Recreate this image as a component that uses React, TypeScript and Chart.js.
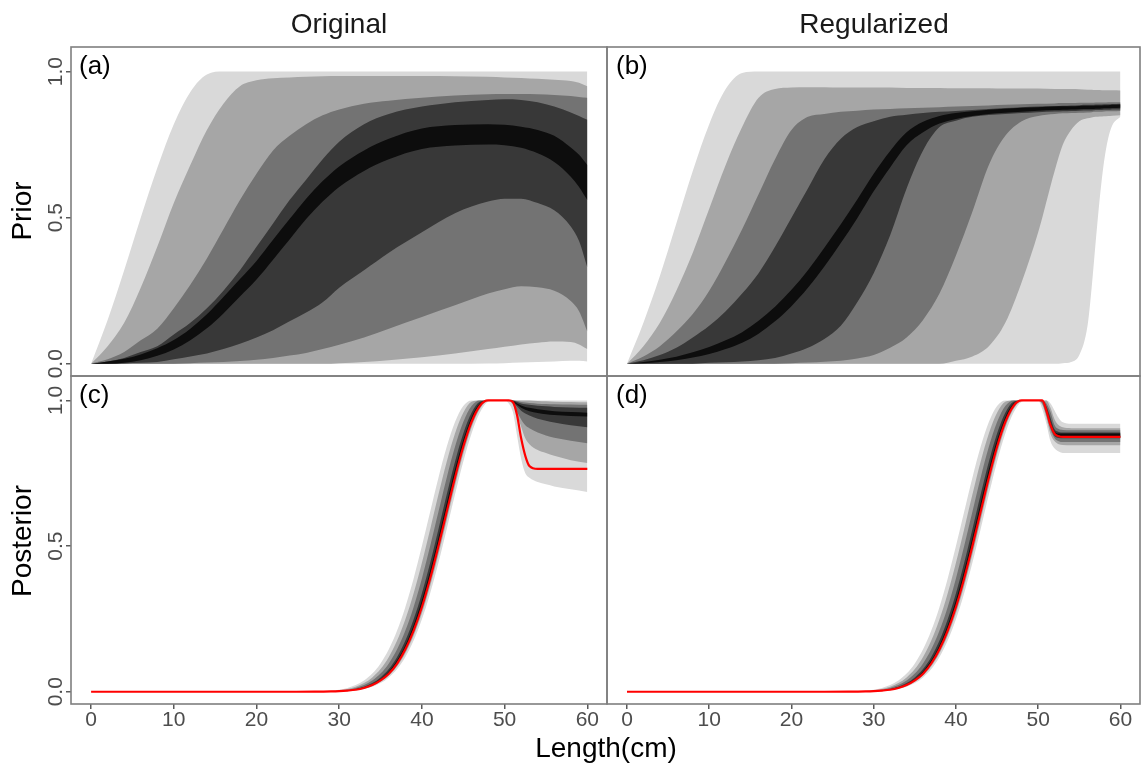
import React, { useEffect, useRef } from 'react';
import { Chart, registerables } from 'chart.js';

Chart.register(...registerables);

// ---------- axis ticks ----------
const X_TICKS = [0, 10, 20, 30, 40, 50, 60];
const Y_TICKS = [0, 0.5, 1.0];

// ---------- panel (a): Original prior ----------
const A_X = [0, 2, 4, 6, 8, 10, 12, 14, 16, 18, 20, 22, 24, 26, 28, 30, 33, 36, 40, 44, 48, 50, 52, 54, 56, 58, 59, 60];
const A_LIGHT_HI = [0, 0.15, 0.32, 0.5, 0.67, 0.82, 0.93, 0.99, 1, 1, 1, 1, 1, 1, 1, 1, 1, 1, 1, 1, 1, 1, 1, 1, 1, 1, 1, 1];
const A_LIGHT_LO = [0, 0, 0, 0, 0, 0, 0, 0, 0, 0, 0, 0, 0, 0, 0, 0, 0, 0, 0, 0, 0.001, 0.002, 0.004, 0.006, 0.008, 0.01, 0.01, 0.008];
const A_A8_HI = [0, 0.06, 0.14, 0.26, 0.4, 0.55, 0.68, 0.8, 0.89, 0.95, 0.97, 0.977, 0.98, 0.982, 0.984, 0.985, 0.985, 0.985, 0.985, 0.984, 0.982, 0.98, 0.978, 0.975, 0.972, 0.968, 0.962, 0.95];
const A_A8_LO = [0, 0, 0, 0, 0, 0, 0, 0, 0, 0, 0, 0, 0, 0, 0, 0.002, 0.006, 0.012, 0.022, 0.035, 0.05, 0.058, 0.066, 0.072, 0.076, 0.074, 0.066, 0.05];
const A_73_HI = [0, 0.015, 0.04, 0.08, 0.12, 0.19, 0.27, 0.36, 0.46, 0.56, 0.65, 0.73, 0.78, 0.82, 0.85, 0.87, 0.89, 0.9, 0.91, 0.918, 0.922, 0.923, 0.923, 0.922, 0.92, 0.916, 0.913, 0.91];
const A_73_LO = [0, 0, 0, 0, 0, 0, 0.002, 0.004, 0.006, 0.009, 0.014, 0.02, 0.028, 0.037, 0.05, 0.065, 0.09, 0.12, 0.16, 0.2, 0.24, 0.255, 0.265, 0.262, 0.25, 0.215, 0.18, 0.11];
const A_36_HI = [0, 0.008, 0.02, 0.04, 0.06, 0.1, 0.14, 0.19, 0.25, 0.32, 0.4, 0.48, 0.56, 0.63, 0.7, 0.76, 0.82, 0.855, 0.88, 0.895, 0.903, 0.905, 0.903, 0.895, 0.88, 0.86, 0.848, 0.835];
const A_36_LO = [0, 0, 0.001, 0.003, 0.006, 0.015, 0.025, 0.035, 0.05, 0.068, 0.09, 0.115, 0.145, 0.175, 0.21, 0.26, 0.32, 0.38, 0.45, 0.515, 0.555, 0.565, 0.565, 0.55, 0.525, 0.47, 0.42, 0.33];
const A_BLACK_HI = [0, 0.008, 0.017, 0.032, 0.053, 0.081, 0.12, 0.169, 0.228, 0.29, 0.352, 0.424, 0.495, 0.565, 0.625, 0.675, 0.73, 0.77, 0.805, 0.817, 0.82, 0.818, 0.811, 0.8, 0.78, 0.74, 0.715, 0.68];
const A_BLACK_LO = [0, 0, 0.003, 0.012, 0.027, 0.049, 0.08, 0.121, 0.172, 0.23, 0.288, 0.356, 0.425, 0.495, 0.555, 0.605, 0.66, 0.7, 0.735, 0.747, 0.75, 0.748, 0.739, 0.72, 0.69, 0.64, 0.605, 0.56];

// ---------- panel (b): Regularized prior ----------
const B_X = [0, 2, 4, 6, 8, 10, 12, 14, 16, 18, 20, 22, 24, 26, 28, 30, 32, 34, 36, 38, 40, 42, 44, 46, 48, 50, 52, 53, 54, 55, 56, 56.5, 57, 57.5, 58, 58.5, 59, 60];
const B_LIGHT_HI = [0, 0.14, 0.3, 0.48, 0.66, 0.82, 0.94, 0.995, 1, 1, 1, 1, 1, 1, 1, 1, 1, 1, 1, 1, 1, 1, 1, 1, 1, 1, 1, 1, 1, 1, 1, 1, 1, 1, 1, 1, 1, 1];
const B_LIGHT_LO = [0, 0, 0, 0, 0, 0, 0, 0, 0, 0, 0, 0, 0, 0, 0, 0, 0, 0, 0, 0, 0, 0, 0, 0, 0, 0, 0, 0.002, 0.006, 0.03, 0.13, 0.26, 0.42, 0.57, 0.69, 0.77, 0.815, 0.845];
const B_A8_HI = [0, 0.06, 0.14, 0.25, 0.38, 0.53, 0.68, 0.81, 0.91, 0.94, 0.945, 0.946, 0.946, 0.945, 0.945, 0.945, 0.945, 0.944, 0.944, 0.944, 0.943, 0.943, 0.943, 0.942, 0.942, 0.942, 0.94, 0.94, 0.94, 0.939, 0.938, 0.938, 0.937, 0.937, 0.936, 0.936, 0.936, 0.935];
const B_A8_LO = [0, 0, 0, 0, 0, 0, 0, 0, 0, 0, 0, 0, 0, 0, 0, 0, 0, 0, 0, 0, 0.01, 0.025, 0.06, 0.14, 0.28, 0.45, 0.66, 0.75, 0.8, 0.83, 0.84, 0.843, 0.845, 0.846, 0.847, 0.848, 0.849, 0.85];
const B_73_HI = [0, 0.025, 0.06, 0.11, 0.17, 0.25, 0.35, 0.46, 0.58, 0.7, 0.8, 0.845, 0.855, 0.862, 0.866, 0.87, 0.872, 0.874, 0.876, 0.878, 0.88, 0.882, 0.884, 0.886, 0.888, 0.89, 0.891, 0.892, 0.892, 0.893, 0.893, 0.893, 0.894, 0.894, 0.894, 0.895, 0.895, 0.895];
const B_73_LO = [0, 0, 0, 0, 0, 0, 0, 0, 0, 0, 0.002, 0.004, 0.007, 0.01, 0.018, 0.03, 0.055, 0.09, 0.15, 0.24, 0.37, 0.52, 0.68, 0.78, 0.83, 0.848, 0.855, 0.857, 0.858, 0.859, 0.86, 0.861, 0.862, 0.862, 0.863, 0.864, 0.864, 0.865];
const B_36_HI = [0, 0.012, 0.03, 0.055, 0.09, 0.13, 0.18, 0.24, 0.31, 0.4, 0.5, 0.6, 0.7, 0.77, 0.81, 0.83, 0.845, 0.852, 0.858, 0.862, 0.865, 0.868, 0.872, 0.875, 0.878, 0.88, 0.882, 0.883, 0.884, 0.885, 0.886, 0.886, 0.887, 0.887, 0.888, 0.888, 0.889, 0.89];
const B_36_LO = [0, 0, 0, 0, 0, 0.003, 0.005, 0.008, 0.012, 0.02, 0.035, 0.055, 0.085, 0.13, 0.21, 0.31, 0.44, 0.6, 0.73, 0.81, 0.832, 0.845, 0.851, 0.855, 0.858, 0.861, 0.863, 0.864, 0.865, 0.866, 0.867, 0.867, 0.868, 0.868, 0.869, 0.869, 0.87, 0.87];
const B_BLACK_HI = [0, 0.006, 0.014, 0.024, 0.039, 0.057, 0.08, 0.108, 0.147, 0.195, 0.253, 0.32, 0.397, 0.477, 0.562, 0.65, 0.728, 0.792, 0.828, 0.848, 0.858, 0.864, 0.869, 0.873, 0.876, 0.878, 0.88, 0.881, 0.881, 0.882, 0.883, 0.883, 0.884, 0.884, 0.885, 0.885, 0.886, 0.887];
const B_BLACK_LO = [0, 0.002, 0.006, 0.012, 0.021, 0.033, 0.05, 0.072, 0.103, 0.145, 0.197, 0.26, 0.333, 0.413, 0.498, 0.59, 0.672, 0.748, 0.792, 0.822, 0.838, 0.848, 0.855, 0.859, 0.862, 0.866, 0.868, 0.869, 0.87, 0.871, 0.872, 0.872, 0.873, 0.873, 0.874, 0.874, 0.875, 0.876];

// ---------- panels (c) & (d): posterior, ascending limb (shared) ----------
const POST_ASC_X = [0, 24, 27, 29, 30, 31, 32, 33, 34, 35, 36, 37, 38, 39, 40, 41, 42, 43, 44, 45, 46, 47, 48, 49, 50];
const ASC_RED = [0, 0, 0.0002, 0.001, 0.002, 0.004, 0.007, 0.013, 0.023, 0.039, 0.062, 0.097, 0.146, 0.21, 0.291, 0.389, 0.5, 0.618, 0.735, 0.841, 0.926, 0.981, 1, 1, 1];
const ASC_LIGHT_LO = [0, 0, 0.0001, 0.0007, 0.0014, 0.0027, 0.0053, 0.0098, 0.0174, 0.0298, 0.0493, 0.0782, 0.1195, 0.1757, 0.2486, 0.3383, 0.443, 0.5583, 0.677, 0.7898, 0.8866, 0.9576, 0.9952, 1, 1];
const ASC_LIGHT_HI = [0, 0, 0.001, 0.0038, 0.0072, 0.013, 0.0229, 0.0385, 0.0624, 0.0972, 0.1456, 0.21, 0.2914, 0.389, 0.5, 0.6177, 0.7348, 0.8408, 0.9258, 0.9809, 1, 1, 1, 1, 1];
const ASC_A8_LO = [0, 0, 0.0002, 0.0008, 0.0016, 0.0032, 0.0062, 0.0113, 0.02, 0.034, 0.0555, 0.0873, 0.1321, 0.1923, 0.2695, 0.3632, 0.4711, 0.588, 0.706, 0.8159, 0.9071, 0.9703, 0.9988, 1, 1];
const ASC_A8_HI = [0, 0, 0.0007, 0.0027, 0.0053, 0.0098, 0.0174, 0.0298, 0.0493, 0.0782, 0.1195, 0.1757, 0.2486, 0.3383, 0.443, 0.5583, 0.677, 0.7898, 0.8866, 0.9576, 0.9952, 1, 1, 1, 1];
const ASC_73_HI = [0, 0, 0.0005, 0.0019, 0.0038, 0.0072, 0.013, 0.0229, 0.0385, 0.0624, 0.0972, 0.1456, 0.21, 0.2914, 0.389, 0.5, 0.6177, 0.7348, 0.8408, 0.9258, 0.9809, 1, 1, 1, 1];
const ASC_36_HI = [0, 0, 0.0003, 0.0014, 0.0027, 0.0053, 0.0098, 0.0174, 0.0298, 0.0493, 0.0782, 0.1195, 0.1757, 0.2486, 0.3383, 0.443, 0.5583, 0.677, 0.7898, 0.8866, 0.9576, 0.9952, 1, 1, 1];
const ASC_BLACK_HI = [0, 0, 0.0003, 0.0011, 0.0023, 0.0045, 0.0084, 0.0151, 0.0262, 0.0436, 0.0699, 0.1079, 0.1601, 0.2287, 0.3144, 0.4157, 0.5289, 0.6475, 0.7626, 0.8644, 0.9427, 0.9892, 1, 1, 1];

// descending limb x positions (shared by c & d)
const POST_DESC_X = [50.5, 51, 51.5, 52, 52.5, 53, 54, 55, 56, 58, 60];

// ---------- panel (c): Original posterior, descending limb ----------
const C_RED_DESC = [1, 0.995, 0.95, 0.87, 0.81, 0.775, 0.765, 0.765, 0.765, 0.765, 0.765];
const C_LIGHT_HI_DESC = [1, 1, 1, 1, 1, 1, 1, 1, 1, 1, 1];
const C_LIGHT_LO_DESC = [0.99, 0.96, 0.88, 0.8, 0.75, 0.735, 0.72, 0.712, 0.705, 0.695, 0.686];
const C_A8_HI_DESC = [1, 1, 1, 1, 1, 1, 0.998, 0.997, 0.996, 0.995, 0.994];
const C_A8_LO_DESC = [1, 0.985, 0.95, 0.91, 0.87, 0.85, 0.83, 0.82, 0.81, 0.795, 0.785];
const C_73_HI_DESC = [1, 1, 0.998, 0.995, 0.993, 0.991, 0.989, 0.988, 0.987, 0.986, 0.985];
const C_73_LO_DESC = [1, 0.99, 0.96, 0.935, 0.915, 0.905, 0.89, 0.88, 0.872, 0.862, 0.853];
const C_36_HI_DESC = [1, 1, 0.995, 0.99, 0.987, 0.985, 0.982, 0.98, 0.978, 0.976, 0.975];
const C_36_LO_DESC = [1, 0.995, 0.98, 0.965, 0.955, 0.948, 0.937, 0.93, 0.924, 0.915, 0.908];
const C_BLACK_HI_DESC = [1, 0.998, 0.99, 0.983, 0.978, 0.975, 0.97, 0.966, 0.963, 0.96, 0.958];
const C_BLACK_LO_DESC = [1, 0.995, 0.985, 0.975, 0.968, 0.963, 0.957, 0.953, 0.95, 0.947, 0.945];

// ---------- panel (d): Regularized posterior, descending limb ----------
const D_RED_DESC = [1, 0.965, 0.915, 0.885, 0.877, 0.875, 0.875, 0.875, 0.875, 0.875, 0.875];
const D_LIGHT_HI_DESC = [1, 1, 0.99, 0.965, 0.94, 0.925, 0.92, 0.92, 0.92, 0.92, 0.92];
const D_LIGHT_LO_DESC = [0.97, 0.92, 0.86, 0.835, 0.825, 0.82, 0.82, 0.82, 0.82, 0.82, 0.82];
const D_A8_HI_DESC = [1, 1, 0.975, 0.935, 0.915, 0.908, 0.905, 0.905, 0.905, 0.905, 0.905];
const D_A8_LO_DESC = [0.985, 0.94, 0.885, 0.86, 0.85, 0.847, 0.846, 0.846, 0.846, 0.846, 0.846];
const D_73_HI_DESC = [1, 0.99, 0.96, 0.915, 0.902, 0.899, 0.898, 0.898, 0.898, 0.898, 0.898];
const D_73_LO_DESC = [0.99, 0.95, 0.9, 0.87, 0.86, 0.857, 0.857, 0.857, 0.857, 0.857, 0.857];
const D_36_HI_DESC = [1, 0.98, 0.94, 0.9, 0.892, 0.89, 0.89, 0.89, 0.89, 0.89, 0.89];
const D_36_LO_DESC = [1, 0.96, 0.91, 0.878, 0.871, 0.87, 0.87, 0.87, 0.87, 0.87, 0.87];
const D_BLACK_HI_DESC = [1, 0.975, 0.925, 0.893, 0.887, 0.887, 0.887, 0.887, 0.887, 0.887, 0.887];
const D_BLACK_LO_DESC = [1, 0.965, 0.915, 0.882, 0.875, 0.874, 0.874, 0.874, 0.874, 0.874, 0.874];

// ---------- styling ----------
const W = 1141;
const H = 770;
const FONT = '"Liberation Sans", Arial, sans-serif';
const BAND_COLORS = ['#0d0d0d', '#383838', '#737373', '#a6a6a6', '#d9d9d9']; // dark -> light
const FRAME_COLOR = '#7f7f7f';
const TICK_COLOR = '#5a5a5a';
const TEXT_GRAY = '#4d4d4d';
const X_MIN = -2.43;
const X_MAX = 62.38;
const Y_MIN = -0.042;
const Y_MAX = 1.084;
const X_AXIS_BOX = 40;

type Band = { lo: number[]; hi: number[] };
type Spec = {
  xs: number[];
  bands: Band[]; // dark -> light
  red?: number[];
  area: { l: number; t: number; r: number; b: number };
  showX: boolean;
  showY: boolean;
};

const POST_X = [...POST_ASC_X, ...POST_DESC_X];

const SPECS: Spec[] = [
  {
    xs: A_X,
    bands: [
      { lo: A_BLACK_LO, hi: A_BLACK_HI },
      { lo: A_36_LO, hi: A_36_HI },
      { lo: A_73_LO, hi: A_73_HI },
      { lo: A_A8_LO, hi: A_A8_HI },
      { lo: A_LIGHT_LO, hi: A_LIGHT_HI },
    ],
    area: { l: 71, t: 47, r: 607, b: 376 },
    showX: false,
    showY: true,
  },
  {
    xs: B_X,
    bands: [
      { lo: B_BLACK_LO, hi: B_BLACK_HI },
      { lo: B_36_LO, hi: B_36_HI },
      { lo: B_73_LO, hi: B_73_HI },
      { lo: B_A8_LO, hi: B_A8_HI },
      { lo: B_LIGHT_LO, hi: B_LIGHT_HI },
    ],
    area: { l: 607, t: 47, r: 1140, b: 376 },
    showX: false,
    showY: false,
  },
  {
    xs: POST_X,
    bands: [
      { lo: [...ASC_RED, ...C_BLACK_LO_DESC], hi: [...ASC_BLACK_HI, ...C_BLACK_HI_DESC] },
      { lo: [...ASC_RED, ...C_36_LO_DESC], hi: [...ASC_36_HI, ...C_36_HI_DESC] },
      { lo: [...ASC_RED, ...C_73_LO_DESC], hi: [...ASC_73_HI, ...C_73_HI_DESC] },
      { lo: [...ASC_A8_LO, ...C_A8_LO_DESC], hi: [...ASC_A8_HI, ...C_A8_HI_DESC] },
      { lo: [...ASC_LIGHT_LO, ...C_LIGHT_LO_DESC], hi: [...ASC_LIGHT_HI, ...C_LIGHT_HI_DESC] },
    ],
    red: [...ASC_RED, ...C_RED_DESC],
    area: { l: 71, t: 376, r: 607, b: 704 },
    showX: true,
    showY: true,
  },
  {
    xs: POST_X,
    bands: [
      { lo: [...ASC_RED, ...D_BLACK_LO_DESC], hi: [...ASC_BLACK_HI, ...D_BLACK_HI_DESC] },
      { lo: [...ASC_RED, ...D_36_LO_DESC], hi: [...ASC_36_HI, ...D_36_HI_DESC] },
      { lo: [...ASC_RED, ...D_73_LO_DESC], hi: [...ASC_73_HI, ...D_73_HI_DESC] },
      { lo: [...ASC_A8_LO, ...D_A8_LO_DESC], hi: [...ASC_A8_HI, ...D_A8_HI_DESC] },
      { lo: [...ASC_LIGHT_LO, ...D_LIGHT_LO_DESC], hi: [...ASC_LIGHT_HI, ...D_LIGHT_HI_DESC] },
    ],
    red: [...ASC_RED, ...D_RED_DESC],
    area: { l: 607, t: 376, r: 1140, b: 704 },
    showX: true,
    showY: false,
  },
];

const panelDecor = {
  id: 'panelDecor',
  afterDraw(chart: any, _args: any, opts: any) {
    const { ctx, chartArea: a } = chart;
    ctx.save();
    ctx.strokeStyle = FRAME_COLOR;
    ctx.lineWidth = 1.6;
    ctx.strokeRect(a.left, a.top, a.right - a.left, a.bottom - a.top);
    if (opts && opts.showY) {
      const ys = chart.scales.y;
      ctx.fillStyle = TEXT_GRAY;
      ctx.font = `21px ${FONT}`;
      ctx.textAlign = 'center';
      ctx.textBaseline = 'alphabetic';
      ys.ticks.forEach((t: any) => {
        const py = ys.getPixelForValue(t.value);
        ctx.save();
        ctx.translate(a.left - 9, py);
        ctx.rotate(-Math.PI / 2);
        ctx.fillText(Number(t.value).toFixed(1), 0, 0);
        ctx.restore();
      });
    }
    ctx.restore();
  },
};

function buildConfig(spec: Spec): any {
  const toPts = (ys: number[]) => spec.xs.map((x, i) => ({ x, y: ys[i] }));
  const datasets: any[] = [];
  if (spec.red) {
    datasets.push({
      data: toPts(spec.red),
      borderColor: '#ff0000',
      borderWidth: 2.2,
      fill: false,
      pointRadius: 0,
    });
  }
  spec.bands.forEach((b, k) => {
    datasets.push({
      data: toPts(b.hi),
      backgroundColor: BAND_COLORS[k],
      borderColor: 'rgba(0,0,0,0)',
      borderWidth: 0,
      fill: '+1',
      pointRadius: 0,
    });
    datasets.push({
      data: toPts(b.lo),
      borderColor: 'rgba(0,0,0,0)',
      borderWidth: 0,
      fill: false,
      pointRadius: 0,
    });
  });

  const gridOpts = {
    drawOnChartArea: false,
    drawTicks: true,
    tickLength: 5,
    color: TICK_COLOR,
    lineWidth: 1.5,
  };

  const xBox = spec.showX ? X_AXIS_BOX : 0;
  const bottomPad = H - spec.area.b - xBox;

  return {
    type: 'line',
    data: { datasets },
    plugins: [panelDecor],
    options: {
      responsive: false,
      animation: false,
      events: [],
      layout: {
        padding: {
          left: spec.area.l,
          top: spec.area.t,
          right: W - spec.area.r,
          bottom: bottomPad,
        },
      },
      elements: {
        line: { cubicInterpolationMode: 'monotone' },
        point: { radius: 0 },
      },
      plugins: {
        legend: { display: false },
        tooltip: { enabled: false },
        panelDecor: { showY: spec.showY },
      },
      scales: {
        x: {
          type: 'linear',
          min: X_MIN,
          max: X_MAX,
          display: spec.showX,
          afterBuildTicks: (s: any) => {
            s.ticks = X_TICKS.map((v) => ({ value: v }));
          },
          afterFit: (s: any) => {
            s.height = xBox;
          },
          grid: gridOpts,
          border: { display: false },
          ticks: {
            autoSkip: false,
            maxRotation: 0,
            minRotation: 0,
            padding: 1,
            color: TEXT_GRAY,
            font: { family: FONT, size: 21, lineHeight: 1 },
            callback: (v: any) => String(v),
          },
        },
        y: {
          type: 'linear',
          min: Y_MIN,
          max: Y_MAX,
          display: spec.showY,
          afterBuildTicks: (s: any) => {
            s.ticks = Y_TICKS.map((v) => ({ value: v }));
          },
          afterFit: (s: any) => {
            s.width = 0;
          },
          grid: gridOpts,
          border: { display: false },
          ticks: { display: false },
        },
      },
    },
  };
}

function Panel({ spec }: { spec: Spec }) {
  const ref = useRef<HTMLCanvasElement>(null);
  useEffect(() => {
    const chart = new Chart(ref.current as HTMLCanvasElement, buildConfig(spec));
    return () => chart.destroy();
  }, [spec]);
  return (
    <canvas
      ref={ref}
      width={W}
      height={H}
      style={{ position: 'absolute', left: 0, top: 0, width: W, height: H }}
    />
  );
}

const textBase: React.CSSProperties = {
  position: 'absolute',
  fontFamily: FONT,
  color: '#000',
  whiteSpace: 'nowrap',
};

export default function App() {
  return (
    <div style={{ position: 'fixed', left: 0, top: 0, width: W, height: H, background: '#fff', overflow: 'hidden' }}>
      {SPECS.map((s, i) => (
        <Panel key={i} spec={s} />
      ))}
      <div style={{ ...textBase, left: 71, width: 536, top: 10, fontSize: 28, lineHeight: '28px', textAlign: 'center', color: '#1a1a1a' }}>Original</div>
      <div style={{ ...textBase, left: 607, width: 534, top: 10, fontSize: 28, lineHeight: '28px', textAlign: 'center', color: '#1a1a1a' }}>Regularized</div>
      <div style={{ ...textBase, left: 22 - 150, width: 300, top: 211 - 14, fontSize: 28, lineHeight: '28px', textAlign: 'center', transform: 'rotate(-90deg)' }}>Prior</div>
      <div style={{ ...textBase, left: 22 - 150, width: 300, top: 541 - 14, fontSize: 28, lineHeight: '28px', textAlign: 'center', transform: 'rotate(-90deg)' }}>Posterior</div>
      <div style={{ ...textBase, left: 406, width: 400, top: 734, fontSize: 28, lineHeight: '28px', textAlign: 'center' }}>Length(cm)</div>
      <div style={{ ...textBase, left: 79, top: 52, fontSize: 26, lineHeight: '26px' }}>(a)</div>
      <div style={{ ...textBase, left: 616, top: 52, fontSize: 26, lineHeight: '26px' }}>(b)</div>
      <div style={{ ...textBase, left: 79, top: 381, fontSize: 26, lineHeight: '26px' }}>(c)</div>
      <div style={{ ...textBase, left: 616, top: 381, fontSize: 26, lineHeight: '26px' }}>(d)</div>
    </div>
  );
}
